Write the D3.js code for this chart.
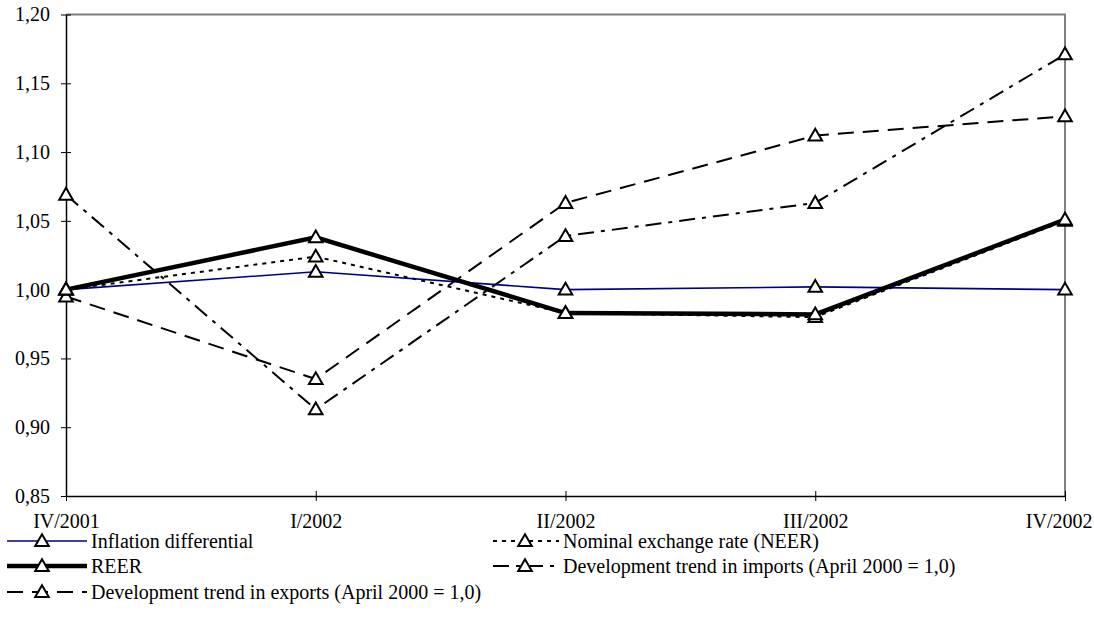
<!DOCTYPE html>
<html>
<head>
<meta charset="utf-8">
<script src="https://cdn.jsdelivr.net/npm/d3@7"></script>
<style>
  body { margin: 0; background: #fff; }
  text { font-family: "Liberation Serif", "Times New Roman", serif; font-size: 20px; fill: #000; }
</style>
</head>
<body>
<svg id="chart" width="1094" height="640"></svg>
<script>
// quarters on the x axis
var quarters = ["IV/2001", "I/2002", "II/2002", "III/2002", "IV/2002"];

// series values
var inflation = [1.000, 1.013, 1.000, 1.002, 1.000];
var neer      = [1.000, 1.024, 0.983, 0.980, 1.050];
var reer      = [1.000, 1.038, 0.983, 0.982, 1.051];
var imports   = [1.069, 0.913, 1.039, 1.063, 1.171];
var exportsS  = [0.995, 0.935, 1.063, 1.112, 1.126];

var yTicks = [0.85, 0.90, 0.95, 1.00, 1.05, 1.10, 1.15, 1.20];

var series = [
    {label: "Inflation differential", values: inflation, color: "#000080", width: 1.6, dash: null},
    {label: "Nominal exchange rate (NEER)", values: neer, color: "#000", width: 2, dash: "4,5"},
    {label: "REER", values: reer, color: "#000", width: 4.5, dash: null},
    {label: "Development trend in imports (April 2000 = 1,0)", values: imports, color: "#000", width: 2, dash: "16,7,4,7"},
    {label: "Development trend in exports (April 2000 = 1,0)", values: exportsS, color: "#000", width: 2, dash: "16,9"}
];

var plotLeft = 66, plotRight = 1065, plotTop = 14.5, plotBottom = 496;

var svg = d3.select("#chart");

var x = d3.scalePoint()
    .domain(quarters)
    .range([plotLeft, plotRight]);

var y = d3.scaleLinear()
    .domain([0.85, 1.20])
    .range([plotBottom, plotTop]);

var fmt = function (d) { return d3.format(".2f")(d).replace(".", ","); };

// grey frame on top and right
svg.append("path")
    .attr("d", "M" + plotLeft + "," + plotTop + "H" + plotRight + "V" + plotBottom)
    .attr("fill", "none")
    .attr("stroke", "#808080")
    .attr("stroke-width", 2);

// y axis
var yAxis = svg.append("g")
    .attr("transform", "translate(" + plotLeft + ",0)")
    .call(d3.axisLeft(y).tickValues(yTicks).tickFormat(fmt).tickSizeInner(5).tickSizeOuter(0).tickPadding(11));
yAxis.attr("font-size", null).attr("font-family", null);
yAxis.selectAll(".tick line").attr("x2", 5).attr("x1", -5).attr("stroke", "#000");
yAxis.select(".domain").attr("stroke", "#000").attr("stroke-width", 1.5);
yAxis.selectAll("text").attr("dy", "0.32em");

// x axis
var xAxis = svg.append("g")
    .attr("transform", "translate(0," + plotBottom + ")")
    .call(d3.axisBottom(x).tickSizeInner(5).tickSizeOuter(0).tickPadding(13));
xAxis.attr("font-size", null).attr("font-family", null);
xAxis.selectAll(".tick line").attr("y1", -5).attr("y2", 5).attr("stroke", "#000");
xAxis.select(".domain").attr("stroke", "#000").attr("stroke-width", 1.5);
// last label is pushed left so it stays inside the page
xAxis.selectAll(".tick text")
    .filter(function (d) { return d === quarters[quarters.length - 1]; })
    .attr("text-anchor", "end")
    .attr("x", 27);

var line = d3.line()
    .x(function (d, i) { return x(quarters[i]); })
    .y(function (d) { return y(d); });

var tri = d3.symbol().type(d3.symbolTriangle).size(80);

// draw order: dashed trends first, then NEER, inflation, REER on top
var order = [4, 3, 1, 0, 2];
order.forEach(function (k) {
    var s = series[k];
    svg.append("path")
        .datum(s.values)
        .attr("d", line)
        .attr("fill", "none")
        .attr("stroke", s.color)
        .attr("stroke-width", s.width)
        .attr("stroke-dasharray", s.dash);
});
order.forEach(function (k) {
    var s = series[k];
    svg.selectAll(null)
        .data(s.values)
        .enter()
        .append("path")
        .attr("d", tri)
        .attr("transform", function (d, i) { return "translate(" + x(quarters[i]) + "," + (y(d) + 1) + ")"; })
        .attr("fill", "#fff")
        .attr("stroke", "#000")
        .attr("stroke-width", 2);
});

// legend: left column has longer sample lines than the right one
var legPos = [
    {x: 7, y: 541, len: 80, mk: 35}, {x: 493, y: 541, len: 66, mk: 32},
    {x: 7, y: 566, len: 80, mk: 35}, {x: 493, y: 566, len: 66, mk: 32},
    {x: 7, y: 592, len: 80, mk: 35}
];
series.forEach(function (s, i) {
    var p = legPos[i];
    var g = svg.append("g").attr("transform", "translate(" + p.x + "," + p.y + ")");
    g.append("line")
        .attr("x1", 0).attr("x2", p.len)
        .attr("stroke", s.color)
        .attr("stroke-width", s.width)
        .attr("stroke-dasharray", s.dash);
    g.append("path")
        .attr("d", tri)
        .attr("transform", "translate(" + p.mk + ",1)")
        .attr("fill", "#fff")
        .attr("stroke", "#000")
        .attr("stroke-width", 2);
    g.append("text")
        .attr("x", p.len + 4)
        .attr("dy", "0.33em")
        .text(s.label);
});
</script>
</body>
</html>
